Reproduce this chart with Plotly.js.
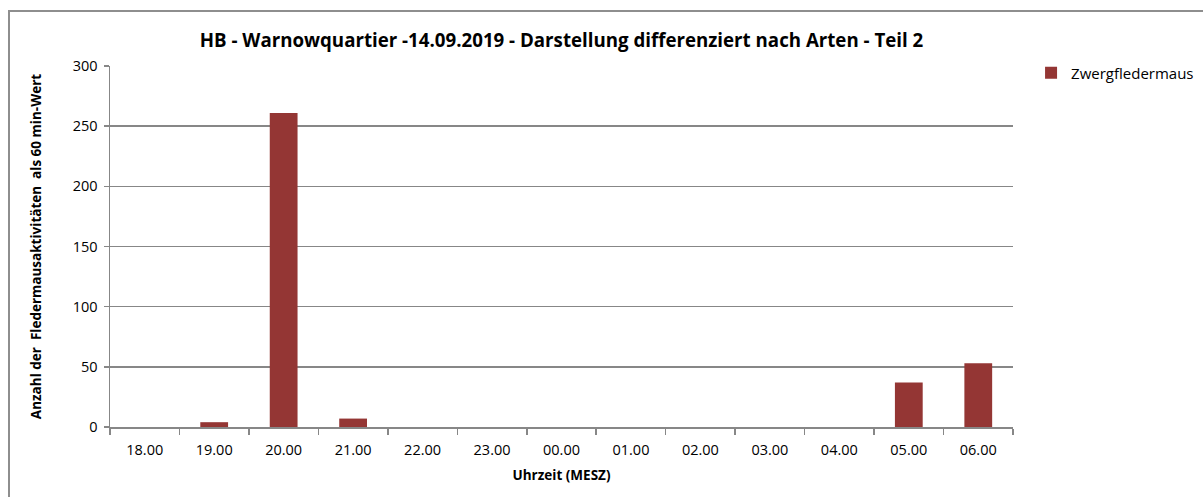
<!DOCTYPE html>
<html>
<head>
<meta charset="utf-8">
<script src="https://cdn.plot.ly/plotly-3.0.1.min.js"></script>
<style>
html,body{margin:0;padding:0;background:#fff;}
#chart{width:1203px;height:497px;position:absolute;left:0;top:0;}
#frame{position:absolute;left:8px;top:10px;width:1300px;height:600px;border-left:2px solid #8e8e8e;border-top:2px solid #8e8e8e;pointer-events:none;}
</style>
</head>
<body>
<div id="chart"></div>
<div id="frame"></div>
<script>
const categories = ["18.00","19.00","20.00","21.00","22.00","23.00","00.00","01.00","02.00","03.00","04.00","05.00","06.00"];
const zwergfledermaus = [0,4,261,7,0,0,0,0,0,0,0,37,53];
const seriesName = "Zwergfledermaus";
const yTicks = [0,50,100,150,200,250,300];

const FONT = "Open Sans, Liberation Sans, Arial, sans-serif";
const grid = "#878787";

Plotly.newPlot("chart", [{
  type: "bar",
  x: categories,
  y: zwergfledermaus,
  name: seriesName,
  marker: {color: "#943634"},
  showlegend: true
}], {
  width: 1203, height: 497,
  margin: {l: 110, r: 190, t: 66, b: 70, autoexpand: false},
  paper_bgcolor: "#fff", plot_bgcolor: "#fff",
  bargap: 0.6,
  font: {family: FONT, color: "#000", size: 14},
  title: {text: "<b>HB - Warnowquartier -14.09.2019 - Darstellung differenziert nach Arten - Teil 2</b>",
          font: {family: FONT, size: 18.7, color: "#000"}, x: 0.5, xref: "paper", xanchor: "center", y: 0.919, yref: "container", yanchor: "middle"},
  xaxis: {
    type: "category",
    tickson: "boundaries",
    ticks: "outside", ticklen: 6, tickcolor: grid, tickwidth: 1.5,
    ticklabelstandoff: 9,
    showline: true, linecolor: grid, linewidth: 1.5,
    showgrid: false, zeroline: false,
    tickfont: {family: FONT, size: 14.5, color: "#000"},
    title: {text: "<b>Uhrzeit (MESZ)</b>", font: {family: FONT, size: 13.5, color: "#000"}, standoff: 12}
  },
  yaxis: {
    range: [0, 300], tickvals: yTicks, ticktext: yTicks.map(String),
    ticks: "outside", ticklen: 5, tickcolor: grid, tickwidth: 1.5,
    ticklabelstandoff: 3,
    showline: true, linecolor: grid, linewidth: 1.5,
    showgrid: true, gridcolor: grid, gridwidth: 1.5,
    zeroline: false,
    tickfont: {family: FONT, size: 14.5, color: "#000"},
    title: {text: "<b>Anzahl der  Fledermausaktivitäten  als 60 min-Wert</b>", font: {family: FONT, size: 13.5, color: "#000"}, standoff: 28}
  },
  legend: {x: 1.02, xanchor: "left", y: 1.026, yanchor: "top", font: {family: FONT, size: 15, color: "#000"}, bgcolor: "rgba(0,0,0,0)"}
}, {displayModeBar: false, staticPlot: true});
</script>
</body>
</html>
